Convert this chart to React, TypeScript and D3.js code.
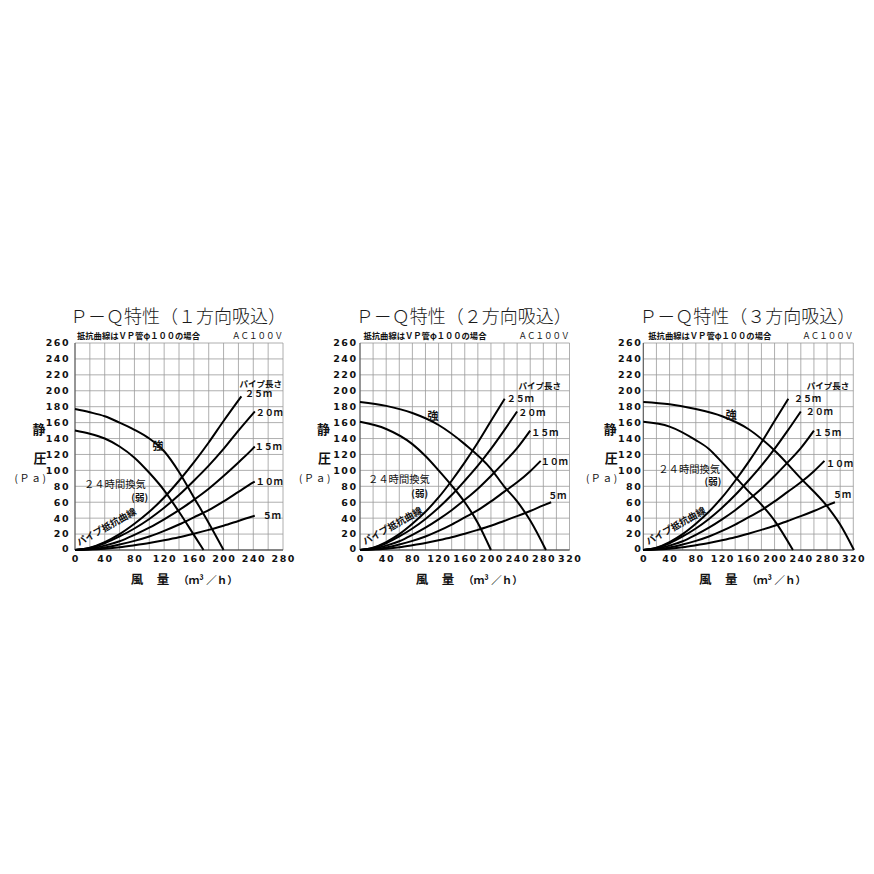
import React from 'react';
import * as d3 from 'd3';

type Pt = [number, number];

// ---- data ----
const titles = ['Ｐ－Ｑ特性（１方向吸込）', 'Ｐ－Ｑ特性（２方向吸込）', 'Ｐ－Ｑ特性（３方向吸込）'];
const noteText = '抵抗曲線はＶＰ管φ１００の場合';
const voltageText = 'ＡＣ１００Ｖ';
const xMaxes = [280, 320, 320];
const yTicks = [0, 20, 40, 60, 80, 100, 120, 140, 160, 180, 200, 220, 240, 260];
const xTicks1 = [0, 40, 80, 120, 160, 200, 240, 280];
const xTicks23 = [0, 40, 80, 120, 160, 200, 240, 280, 320];

// fan curves (強 / 24時間換気(弱)) per chart: [flow m3/h, static pressure Pa]
const strong1: Pt[] = [[0, 177], [20, 173], [40, 168], [60, 160], [80, 151], [100, 140], [120, 124], [140, 98], [160, 66], [180, 34], [200, 0]];
const weak1: Pt[] = [[0, 150], [20, 146], [40, 140], [60, 130], [80, 116], [100, 97], [120, 75], [140, 48], [160, 19], [173, 0]];
const strong2: Pt[] = [[0, 186], [40, 181], [80, 172], [120, 157], [160, 133], [200, 102], [220, 80], [240, 61], [260, 37], [284, 0]];
const weak2: Pt[] = [[0, 161], [40, 152], [80, 133], [100, 118], [120, 100], [140, 81], [160, 60], [180, 34], [200, 0]];
const strong3: Pt[] = [[0, 186], [40, 183], [80, 177], [120, 168], [160, 152], [200, 125], [240, 90], [280, 55], [300, 32], [321, 0]];
const weak3: Pt[] = [[0, 161], [40, 155], [80, 138], [100, 127], [120, 110], [140, 92], [160, 74], [180, 57], [200, 37], [228, 0]];

// pipe resistance curves (VP φ100), same in all three charts
const pipe25: Pt[] = [[0, 0], [20, 3], [40, 10], [60, 20], [80, 33], [100, 48], [120, 66], [140, 87], [160, 110], [180, 135], [200, 162]];
const pipe20: Pt[] = [[0, 0], [20, 2.5], [40, 8.5], [60, 17], [80, 27], [100, 39], [120, 53], [140, 69], [160, 87], [180, 106], [200, 127], [220, 150]];
const pipe15: Pt[] = [[0, 0], [20, 1.8], [40, 5.5], [60, 11], [80, 19], [100, 28], [120, 38.5], [140, 50], [160, 63], [180, 77], [200, 93], [220, 110], [240, 128]];
const pipe10: Pt[] = [[0, 0], [20, 1], [40, 3.2], [60, 7], [80, 11.5], [100, 17], [120, 24], [140, 32], [160, 41], [180, 50], [200, 61], [220, 73], [240, 85], [260, 99]];
const pipe5: Pt[] = [[0, 0], [20, 0.5], [40, 1.7], [60, 3.5], [80, 6], [100, 8.8], [120, 12.2], [140, 16], [160, 20.5], [180, 25.3], [200, 30.5], [220, 36.5], [240, 42.5], [260, 49], [280, 56]];
const pipeLabels = ['２５ｍ', '２０ｍ', '１５ｍ', '１０ｍ', '５ｍ'];
// where each pipe curve stops in each chart
const pipeEnds1: Pt[] = [[224, 193], [242, 174], [242, 130], [242, 86], [242, 43]];
const pipeEnds23: Pt[] = [[221, 190], [240, 174], [260, 150], [276, 112], [292, 60]];

// ---- layout ----
const JP = '"Noto Sans CJK JP", sans-serif';
const NUM = '"DejaVu Sans", sans-serif';
const X0 = [75, 360, 643.3];
const X1 = [283, 569.5, 853.3];
const Y_BOTTOM = 550;
const Y_TOP = 343;
const yLabelGap = [6.5, 4, 2.5];
const yTitleDx = [36, 36.5, 33];
const lengthHeadDx = [1, 8.5, 4];
// label offsets from each pipe end, px
const pipeLabelOff: Pt[][] = [
  [[3.5, 1], [1, 4.5], [0, 3], [1, 3.5], [8, 3.2]],
  [[2, 3], [1, 4.5], [1, 5], [0, 3.7], [-3, -3.7]],
  [[5.7, 3.2], [5, 3.5], [0, 5.4], [1.6, 6], [-2, -4]],
];
// fan-curve label positions relative to the plot origin, px
const strongLab: Pt[] = [[83, -104], [73, -134], [88, -135]];
const weakLab: Pt[] = [[9, -62], [8, -67.5], [15, -77.5]];
const weakSubLab: Pt[] = [[73, -49.5], [68, -53.5], [78, -65.5]];

const fans = [[strong1, weak1], [strong2, weak2], [strong3, weak3]];
const pipes = [pipe25, pipe20, pipe15, pipe10, pipe5];
const pipeEnds = [pipeEnds1, pipeEnds23, pipeEnds23];
const xTicksAll = [xTicks1, xTicks23, xTicks23];

const trim = (pts: Pt[], end: Pt): Pt[] => [...pts.filter(p => p[0] < end[0]), end];

const Chart: React.FC<{ i: number }> = ({ i }) => {
  const x0 = X0[i];
  const x = d3.scaleLinear().domain([0, xMaxes[i]]).range([x0, X1[i]]);
  const y = d3.scaleLinear().domain([0, 260]).range([Y_BOTTOM, Y_TOP]);
  const line = d3.line<Pt>().x(d => x(d[0])).y(d => y(d[1])).curve(d3.curveMonotoneX);
  const gridX = d3.range(0, xMaxes[i] + 1, 20);
  const ls = 1.5;

  return (
    <g>
      <text x={(X0[i] + X1[i]) / 2 - 1} y={323} textAnchor="middle" fontFamily={JP} fontSize={18} fontWeight={300} fill="#1a1a1a">
        {titles[i]}
      </text>
      <text x={x0 + 2 + i * 1.5} y={339} fontFamily={JP} fontSize={8.3} fontWeight="bold" fill="#111">
        {noteText}
      </text>
      <text x={X1[i]} y={339} textAnchor="end" fontFamily={JP} fontSize={8.5} fill="#111">
        {voltageText}
      </text>

      {/* grid */}
      {gridX.map(v => (
        <line key={'gx' + v} x1={x(v)} x2={x(v)} y1={Y_TOP} y2={Y_BOTTOM} stroke="#9a9a9a" strokeWidth={0.8} />
      ))}
      {yTicks.map(v => (
        <line key={'gy' + v} x1={x0} x2={X1[i]} y1={y(v)} y2={y(v)} stroke="#9a9a9a" strokeWidth={0.8} />
      ))}
      <line x1={x0} x2={x0} y1={Y_TOP} y2={Y_BOTTOM} stroke="#555" strokeWidth={1} />
      <line x1={x0} x2={X1[i]} y1={Y_BOTTOM} y2={Y_BOTTOM} stroke="#333" strokeWidth={1} />

      {/* tick labels */}
      {yTicks.map(v => (
        <text key={'ty' + v} x={x0 - yLabelGap[i] + ls} y={y(v) - (v === 0 ? 1 : 0)} dy="0.36em" textAnchor="end"
          fontFamily={NUM} fontSize={9.5} fontWeight="bold" letterSpacing={ls} fill="#111">
          {v}
        </text>
      ))}
      {xTicksAll[i].map(v => (
        <text key={'tx' + v} x={x(v) + ls / 2} y={562} textAnchor="middle"
          fontFamily={NUM} fontSize={9.5} fontWeight="bold" letterSpacing={ls} fill="#111">
          {v}
        </text>
      ))}

      {/* axis titles */}
      <text x={x0 - yTitleDx[i]} y={434} textAnchor="middle" fontFamily={JP} fontSize={13} fontWeight="bold" fill="#111">静</text>
      <text x={x0 - yTitleDx[i] + 1} y={463} textAnchor="middle" fontFamily={JP} fontSize={13} fontWeight="bold" fill="#111">圧</text>
      <text x={x0 - yTitleDx[i] - 8} y={482} textAnchor="middle" fontFamily={JP} fontSize={10} letterSpacing={1.5} fill="#111">(Ｐａ)</text>
      <text x={x0 + 62} y={584} textAnchor="middle" fontFamily={JP} fontSize={12.5} fontWeight="bold" fill="#111">風</text>
      <text x={x0 + 88} y={584} textAnchor="middle" fontFamily={JP} fontSize={12.5} fontWeight="bold" fill="#111">量</text>
      <text x={x0 + 133} y={583.5} textAnchor="middle" fontFamily={JP} fontSize={10.5} fontWeight="bold" fill="#111">（ｍ³ ／ｈ）</text>

      {/* pipe resistance curves */}
      {pipes.map((p, k) => {
        const end = pipeEnds[i][k];
        const off = pipeLabelOff[i][k];
        return (
          <g key={'p' + k}>
            <path d={line(trim(p, end)) || ''} fill="none" stroke="#000" strokeWidth={2} />
            <text x={x(end[0]) + off[0]} y={y(end[1]) + off[1]} fontFamily={JP} fontSize={9} fontWeight="bold" fill="#111">
              {pipeLabels[k]}
            </text>
          </g>
        );
      })}
      <text x={X1[i] - lengthHeadDx[i]} y={387 + (i > 0 ? 1.5 : 0)} textAnchor="end" fontFamily={JP} fontSize={8.5} fontWeight="bold" fill="#111">
        パイプ長さ
      </text>

      {/* fan curves */}
      {fans[i].map((f, k) => (
        <path key={'f' + k} d={line(f) || ''} fill="none" stroke="#000" strokeWidth={2} />
      ))}
      <text x={x0 + strongLab[i][0]} y={Y_BOTTOM + strongLab[i][1]} dy="0.36em" textAnchor="middle" fontFamily={JP} fontSize={11} fontWeight="bold" fill="#111">強</text>
      <text x={x0 + weakLab[i][0]} y={Y_BOTTOM + weakLab[i][1]} fontFamily={JP} fontSize={10.3} fill="#111">２４時間換気</text>
      <text x={x0 + weakSubLab[i][0]} y={Y_BOTTOM + weakSubLab[i][1]} textAnchor="end" fontFamily={JP} fontSize={9.5} fontWeight="bold" fill="#111">(弱)</text>
      <text transform={`translate(${x0 + 4 + (i > 0 ? 1 : 0)},${Y_BOTTOM - 4 - (i > 0 ? 1 : 0)}) rotate(-29)`}
        fontFamily={JP} fontSize={9.5} fontWeight="bold" fill="#111">
        パイプ抵抗曲線
      </text>
    </g>
  );
};

export default function App() {
  return (
    <svg width={874} height={874} viewBox="0 0 874 874"
      style={{ position: 'absolute', left: 0, top: 0, background: '#fff', display: 'block' }}>
      <rect width={874} height={874} fill="#fff" />
      {[0, 1, 2].map(i => <Chart key={i} i={i} />)}
    </svg>
  );
}
